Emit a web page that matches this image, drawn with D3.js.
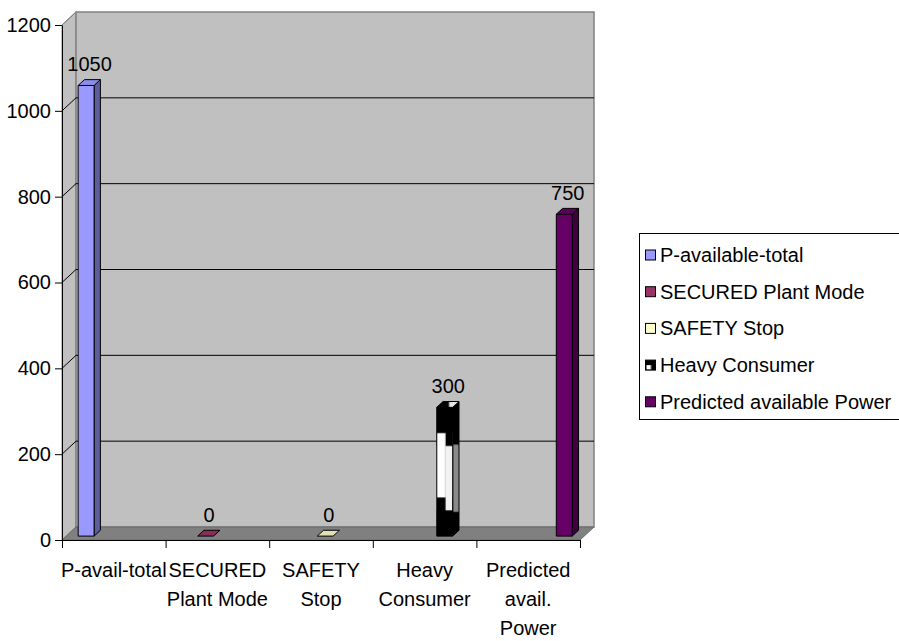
<!DOCTYPE html>
<html>
<head>
<meta charset="utf-8">
<script src="https://cdn.jsdelivr.net/npm/d3@7"></script>
<style>
  html, body { margin: 0; padding: 0; background: #fff; }
  svg { display: block; font-family: "Liberation Sans", Arial, sans-serif; }
</style>
</head>
<body>
<svg id="chart" width="899" height="641"></svg>
<script>
// ---- data ----
const categoryLines = [
  ["P-avail-total"],
  ["SECURED", "Plant Mode"],
  ["SAFETY", "Stop"],
  ["Heavy", "Consumer"],
  ["Predicted", "avail.", "Power"]
];
const categories = categoryLines.map(l => l.join(" "));

const seriesNames = [
  "P-available-total",
  "SECURED Plant Mode",
  "SAFETY Stop",
  "Heavy Consumer",
  "Predicted available Power"
];
const seriesColors = ["#9999FF", "#993366", "#FFFFCC", "pattern", "#660066"];

// one value per category for each series (null = no bar)
const pAvailableTotal    = [1050, null, null, null, null];
const securedPlantMode   = [null, 0, null, null, null];
const safetyStop         = [null, null, 0, null, null];
const heavyConsumer      = [null, null, null, 300, null];
const predictedAvailable = [null, null, null, null, 750];
const seriesValues = [pAvailableTotal, securedPlantMode, safetyStop, heavyConsumer, predictedAvailable];

const yTicks = [0, 200, 400, 600, 800, 1000, 1200];

// ---- layout ----
const svg = d3.select("#chart");
const plotLeft = 62, plotRight = 580, plotTop = 25, plotBottom = 540;
const depth = { dx: 14, dy: -13 };          // floor / wall depth
const barFront = 0.3, barBack = 0.75;       // bar position within the depth

const y = d3.scaleLinear().domain([0, 1200]).range([plotBottom, plotTop]);
const x = d3.scaleBand().domain(categories).range([plotLeft, plotRight]).paddingInner(0).paddingOuter(0);
const xs = d3.scaleBand().domain(seriesNames).range([0, x.bandwidth()]).paddingInner(0).paddingOuter(0.75);
const xEdge = d3.scaleLinear().domain([0, categories.length]).range([plotLeft, plotRight]);

const poly = pts => "M" + pts.map(p => p.join(",")).join("L") + "Z";

// ---- patterns for the Heavy Consumer bar ----
const defs = svg.append("defs");
function bboxPattern(id) {
  return defs.append("pattern").attr("id", id)
    .attr("patternUnits", "objectBoundingBox").attr("patternContentUnits", "objectBoundingBox")
    .attr("width", 1).attr("height", 1);
}
const pf = bboxPattern("hcFront");
pf.append("rect").attr("width", 1).attr("height", 1).attr("fill", "#000");
pf.append("rect").attr("x", 0).attr("y", 0.2).attr("width", 0.55).attr("height", 0.5).attr("fill", "#fff");
pf.append("rect").attr("x", 0.55).attr("y", 0.3).attr("width", 0.45).attr("height", 0.5).attr("fill", "#f2f2f2");

const ps = bboxPattern("hcSide");
ps.append("rect").attr("width", 1).attr("height", 1).attr("fill", "#8a8a8a");
ps.append("rect").attr("width", 1).attr("height", 0.32).attr("fill", "#000");
ps.append("rect").attr("y", 0.82).attr("width", 1).attr("height", 0.18).attr("fill", "#000");

const pt = bboxPattern("hcTop");
pt.append("rect").attr("width", 1).attr("height", 1).attr("fill", "#e6e6e6");
pt.append("rect").attr("width", 0.55).attr("height", 1).attr("fill", "#000");

const pl = bboxPattern("hcLegend");
pl.append("rect").attr("width", 1).attr("height", 1).attr("fill", "#000");
pl.append("rect").attr("x", 0.1).attr("y", 0.5).attr("width", 0.45).attr("height", 0.45).attr("fill", "#fff");

// ---- walls and floor ----
const walls = svg.append("g");
// side wall
walls.append("path")
  .attr("d", poly([[plotLeft, y(1200)], [plotLeft + depth.dx, y(1200) + depth.dy], [plotLeft + depth.dx, y(0) + depth.dy], [plotLeft, y(0)]]))
  .attr("fill", "#c0c0c0").attr("stroke", "#808080");
// back wall
walls.append("path")
  .attr("d", poly([[plotLeft + depth.dx, y(1200) + depth.dy], [plotRight + depth.dx, y(1200) + depth.dy], [plotRight + depth.dx, y(0) + depth.dy], [plotLeft + depth.dx, y(0) + depth.dy]]))
  .attr("fill", "#c0c0c0").attr("stroke", "#808080").attr("stroke-width", 1.5);

// gridlines on the back wall and the side wall
const grid = walls.append("g").attr("stroke", "#000").attr("stroke-width", 1);
yTicks.filter(t => t > 0 && t < 1200).forEach(t => {
  grid.append("line")
    .attr("x1", plotLeft + depth.dx).attr("x2", plotRight + depth.dx)
    .attr("y1", y(t) + depth.dy).attr("y2", y(t) + depth.dy);
});
yTicks.filter(t => t > 0).forEach(t => {
  grid.append("line")
    .attr("x1", plotLeft).attr("y1", y(t))
    .attr("x2", plotLeft + depth.dx).attr("y2", y(t) + depth.dy)
    .attr("stroke", t === 1200 ? "#808080" : "#000");
});

// floor
walls.append("path")
  .attr("d", poly([[plotLeft, y(0)], [plotRight, y(0)], [plotRight + depth.dx, y(0) + depth.dy], [plotLeft + depth.dx, y(0) + depth.dy]]))
  .attr("fill", "#808080").attr("stroke", "#6a6a6a");

// ---- bars ----
const bars = [];
seriesValues.forEach((vals, si) => {
  vals.forEach((v, ci) => {
    if (v === null) return;
    bars.push({ series: seriesNames[si], color: seriesColors[si], cat: categories[ci], value: v });
  });
});

const ddx = depth.dx * (barBack - barFront), ddy = depth.dy * (barBack - barFront);
const barG = svg.append("g").attr("stroke", "#000").attr("stroke-width", 1).attr("stroke-linejoin", "round");
bars.forEach(b => {
  const w = xs.bandwidth();
  const bx = x(b.cat) + xs(b.series) + depth.dx * barFront;
  const yt = y(b.value) + depth.dy * barFront;
  const yb = y(0) + depth.dy * barFront;
  const isPattern = b.color === "pattern";
  const base = isPattern ? null : d3.color(b.color);
  const topFill = isPattern ? "url(#hcTop)" : (b.value === 0 ? base.darker(0.35) : base.darker(0.25)).toString();
  const sideFill = isPattern ? "url(#hcSide)" : base.darker(1.4).toString();
  const frontFill = isPattern ? "url(#hcFront)" : base.toString();

  const g = barG.append("g");
  if (b.value > 0) {
    g.append("path")
      .attr("d", poly([[bx + w, yt], [bx + w + ddx, yt + ddy], [bx + w + ddx, yb + ddy], [bx + w, yb]]))
      .attr("fill", sideFill);
    g.append("rect").attr("x", bx).attr("y", yt).attr("width", w).attr("height", yb - yt)
      .attr("fill", frontFill);
  }
  g.append("path")
    .attr("d", poly([[bx, yt], [bx + w, yt], [bx + w + ddx, yt + ddy], [bx + ddx, yt + ddy]]))
    .attr("fill", topFill);

  // value label
  svg.append("text")
    .attr("x", bx + w / 2 + 3.5).attr("y", y(b.value) - 18)
    .attr("text-anchor", "middle").attr("font-size", 20).attr("fill", "#000")
    .text(b.value);
});

// ---- axes ----
const yAxis = svg.append("g").attr("transform", `translate(${plotLeft},0)`)
  .call(d3.axisLeft(y).tickValues(yTicks).tickSize(7).tickSizeOuter(0).tickPadding(4).tickFormat(d3.format("d")));
yAxis.select(".domain").attr("stroke", "#000");
yAxis.selectAll(".tick line").attr("stroke", "#000");
yAxis.selectAll("text").attr("font-size", 20).attr("font-family", "Liberation Sans, Arial, sans-serif").attr("fill", "#000");

const xAxis = svg.append("g").attr("transform", `translate(0,${plotBottom})`)
  .call(d3.axisBottom(xEdge).tickValues(d3.range(categories.length + 1)).tickSize(8).tickSizeOuter(0).tickFormat(""));
xAxis.select(".domain").attr("stroke", "#000");
xAxis.selectAll(".tick line").attr("stroke", "#000");

// category labels
const catG = svg.append("g").attr("font-size", 20).attr("fill", "#000").attr("text-anchor", "middle");
categoryLines.forEach((lines, i) => {
  const cx = x(categories[i]) + x.bandwidth() / 2;
  lines.forEach((ln, k) => {
    catG.append("text").attr("x", cx).attr("y", 577 + k * 29).text(ln);
  });
});

// ---- legend ----
const legend = svg.append("g");
legend.append("rect").attr("x", 639.5).attr("y", 233.5).attr("width", 270).attr("height", 186)
  .attr("fill", "#fff").attr("stroke", "#000");
seriesNames.forEach((name, i) => {
  const cy = 255 + i * 36.7;
  const fill = seriesColors[i] === "pattern" ? "url(#hcLegend)" : seriesColors[i];
  legend.append("rect").attr("x", 645.5).attr("y", cy - 5).attr("width", 10).attr("height", 10)
    .attr("fill", fill).attr("stroke", "#000");
  legend.append("text").attr("x", 660).attr("y", cy).attr("dy", "0.35em")
    .attr("font-size", 20).attr("fill", "#000").text(name);
});
</script>
</body>
</html>
